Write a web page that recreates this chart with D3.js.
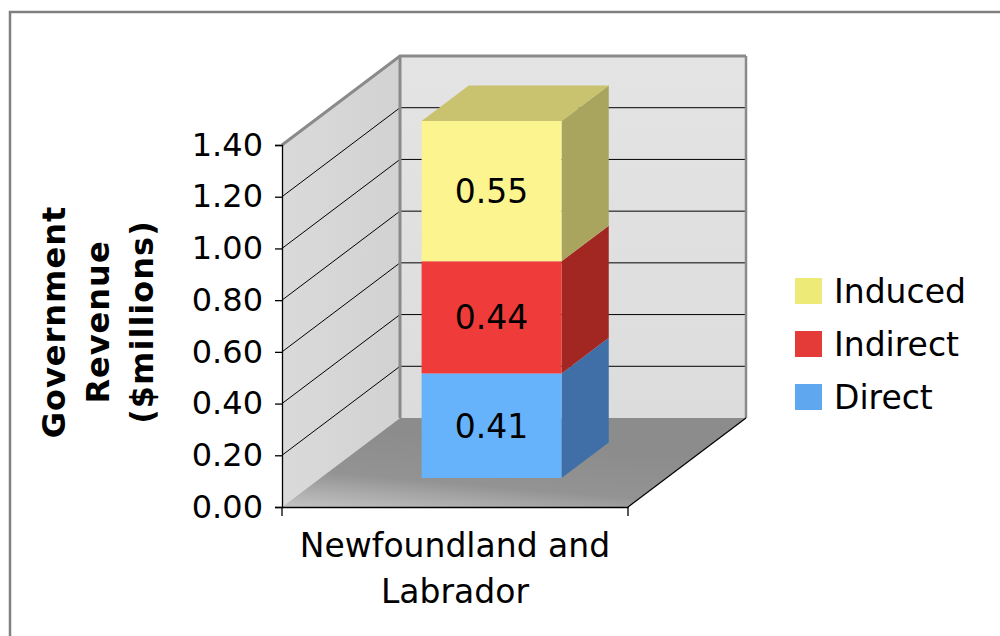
<!DOCTYPE html>
<html>
<head>
<meta charset="utf-8">
<script src="https://cdn.jsdelivr.net/npm/d3@7"></script>
<style>
  html, body { margin: 0; padding: 0; background: #fff; }
  svg { display: block; }
  text { font-family: "DejaVu Sans", Verdana, sans-serif; fill: #000; }
</style>
</head>
<body>
<svg id="chart" width="1000" height="636"></svg>
<script>
// ---- data ----
const categories = ["Newfoundland and Labrador"];
const seriesNames = ["Direct", "Indirect", "Induced"];
const directValues = [0.41];
const indirectValues = [0.44];
const inducedValues = [0.55];
const yTickValues = [0, 0.2, 0.4, 0.6, 0.8, 1.0, 1.2, 1.4];
const yTitleLines = ["Government", "Revenue", "($millions)"];
const categoryLines = [["Newfoundland and", "Labrador"]];

// ---- styles ----
const frontColor = { Direct: "#66b2fb", Indirect: "#ef3c3a", Induced: "#fcf58f" };
const sideColor  = { Direct: "#3f6fa6", Indirect: "#a22622", Induced: "#a9a45e" };
const topColor   = { Direct: "#4f8cd0", Indirect: "#c0302c", Induced: "#c9c36f" };
const legendColor = { Direct: "#5fa8f0", Indirect: "#e43a38", Induced: "#eeea78" };

const table = categories.map((c, i) => ({
  category: c,
  Direct: directValues[i],
  Indirect: indirectValues[i],
  Induced: inducedValues[i]
}));
const stacked = d3.stack().keys(seriesNames)(table);

const svg = d3.select("#chart");

// outer frame
svg.append("rect")
  .attr("x", 10).attr("y", 12).attr("width", 1010).attr("height", 700)
  .attr("fill", "#fff").attr("stroke", "#808080").attr("stroke-width", 2.5);

// ---- scales & projection ----
const yMax = 1.4;
const y = d3.scaleLinear().domain([0, yMax]).range([507, 145]);
const x = d3.scaleBand().domain(categories).range([282, 628])
  .paddingInner(0.424).paddingOuter(0.424);
// oblique depth axis: 0 = front plane, 1 = back wall
const depth = d3.scaleLinear().domain([0, 1]);
const depthX = depth.copy().range([0, 118]);
const depthY = depth.copy().range([0, -89]);

const x0 = x.range()[0], x1 = x.range()[1];
const backX0 = x0 + depthX(1), backX1 = x1 + depthX(1);

const defs = svg.append("defs");
const sideWallGrad = defs.append("linearGradient").attr("id", "sideWall")
  .attr("x1", 0).attr("y1", 0).attr("x2", 1).attr("y2", 0);
sideWallGrad.append("stop").attr("offset", "0%").attr("stop-color", "#dadada");
sideWallGrad.append("stop").attr("offset", "100%").attr("stop-color", "#d2d2d2");
const backWallGrad = defs.append("linearGradient").attr("id", "backWall")
  .attr("x1", 0).attr("y1", 0).attr("x2", 0).attr("y2", 1);
backWallGrad.append("stop").attr("offset", "0%").attr("stop-color", "#e4e4e4");
backWallGrad.append("stop").attr("offset", "100%").attr("stop-color", "#dcdcdc");
const floorGrad = defs.append("linearGradient").attr("id", "floor")
  .attr("x1", 0).attr("y1", 1).attr("x2", 0.35).attr("y2", 0.2);
floorGrad.append("stop").attr("offset", "0%").attr("stop-color", "#c4c4c4");
floorGrad.append("stop").attr("offset", "45%").attr("stop-color", "#939393");
floorGrad.append("stop").attr("offset", "100%").attr("stop-color", "#8c8c8c");

const line = d3.line();

// side wall (left)
svg.append("path")
  .attr("d", line([[x0, y(yMax)], [backX0, y(yMax) + depthY(1)], [backX0, y(0) + depthY(1)], [x0, y(0)]]) + "Z")
  .attr("fill", "url(#sideWall)");

// back wall
svg.append("rect")
  .attr("x", backX0).attr("y", y(yMax) + depthY(1))
  .attr("width", backX1 - backX0).attr("height", y(0) - y(yMax))
  .attr("fill", "url(#backWall)");

// floor
svg.append("path")
  .attr("d", line([[x0, y(0)], [x1, y(0)], [backX1, y(0) + depthY(1)], [backX0, y(0) + depthY(1)]]) + "Z")
  .attr("fill", "url(#floor)");

// gridlines across side wall and back wall
const gridTicks = yTickValues.filter(v => v > 0 && v < yMax);
const grid = svg.append("g").attr("stroke", "#000").attr("stroke-width", 1).attr("fill", "none");
gridTicks.forEach(v => {
  grid.append("path").attr("d", line([
    [x0, y(v)], [backX0, y(v) + depthY(1)], [backX1, y(v) + depthY(1)]
  ]));
});

// wall edges
const edges = svg.append("g").attr("fill", "none").attr("stroke", "#8a8a8a");
edges.append("path").attr("stroke-width", 3)
  .attr("d", line([[x0, y(yMax)], [backX0, y(yMax) + depthY(1)], [backX1, y(yMax) + depthY(1)]]));
edges.append("path").attr("stroke-width", 3)
  .attr("d", line([[backX0, y(yMax) + depthY(1)], [backX0, y(0) + depthY(1)]]));
edges.append("path").attr("stroke-width", 2.5)
  .attr("d", line([[backX1, y(yMax) + depthY(1)], [backX1, y(0) + depthY(1)]]));

// floor right edge
svg.append("path")
  .attr("d", line([[x1, y(0)], [backX1, y(0) + depthY(1)]]))
  .attr("stroke", "#000").attr("stroke-width", 1.2).attr("fill", "none");

// ---- bar ----
const barFront = 0.31, barDepth = 0.40;
const yBar = d3.scaleLinear().domain([0, yMax])
  .range([y(0) + depthY(0.326), y(yMax) + depthY(0.326) + 5]);
const ddx = depthX(barDepth), ddy = depthY(barDepth);

const bars = svg.append("g");
stacked.forEach((layer, li) => {
  layer.forEach(d => {
    const key = layer.key;
    const bx0 = x(d.data.category) + depthX(barFront);
    const bx1 = bx0 + x.bandwidth();
    const yb = yBar(d[0]), yt = yBar(d[1]);
    // right side
    bars.append("path")
      .attr("d", line([[bx1, yt], [bx1 + ddx, yt + ddy], [bx1 + ddx, yb + ddy], [bx1, yb]]) + "Z")
      .attr("fill", sideColor[key]);
    // top (only for the uppermost segment)
    if (li === stacked.length - 1) {
      bars.append("path")
        .attr("d", line([[bx0, yt], [bx0 + ddx, yt + ddy], [bx1 + ddx, yt + ddy], [bx1, yt]]) + "Z")
        .attr("fill", topColor[key]);
    }
    // front
    bars.append("rect")
      .attr("x", bx0).attr("y", yt)
      .attr("width", bx1 - bx0).attr("height", yb - yt)
      .attr("fill", frontColor[key]);
    // value label
    bars.append("text")
      .attr("x", (bx0 + bx1) / 2)
      .attr("y", (yt + yb) / 2)
      .attr("dy", "0.36em")
      .attr("text-anchor", "middle")
      .attr("font-size", 33)
      .text(d3.format(".2f")(d[1] - d[0]));
  });
});

// ---- axes ----
const yAxis = d3.axisLeft(y).tickValues(yTickValues)
  .tickFormat(d3.format(".2f")).tickSize(7).tickPadding(12);
const yAxisG = svg.append("g").attr("transform", `translate(${x0},0)`).call(yAxis);
yAxisG.select(".domain").attr("stroke", "#000").attr("stroke-width", 1.3);
yAxisG.selectAll(".tick line").attr("stroke", "#000").attr("stroke-width", 1.3);
yAxisG.selectAll(".tick text")
  .attr("font-family", "DejaVu Sans, Verdana, sans-serif")
  .attr("font-size", 32).attr("fill", "#000");

const xAxis = d3.axisBottom(x).tickSize(0).tickFormat("");
const xAxisG = svg.append("g").attr("transform", `translate(0,${y(0)})`).call(xAxis);
xAxisG.select(".domain").attr("stroke", "#000").attr("stroke-width", 1.3);
// category boundary ticks
xAxisG.selectAll(".bound").data(x.range()).enter().append("line")
  .attr("x1", d => d).attr("x2", d => d).attr("y1", 0).attr("y2", 9)
  .attr("stroke", "#000").attr("stroke-width", 1.3);

// category labels
categories.forEach((c, i) => {
  const t = svg.append("text")
    .attr("x", x(c) + x.bandwidth() / 2)
    .attr("text-anchor", "middle")
    .attr("font-size", 33);
  categoryLines[i].forEach((ln, j) => {
    t.append("tspan").attr("x", x(c) + x.bandwidth() / 2)
      .attr("y", 557 + j * 46).text(ln);
  });
});

// y-axis title
const yTitle = svg.append("text")
  .attr("transform", "translate(0,322) rotate(-90)")
  .attr("text-anchor", "middle")
  .attr("font-weight", "bold")
  .attr("font-size", 32)
  .attr("letter-spacing", 1);
yTitleLines.forEach((ln, j) => {
  yTitle.append("tspan").attr("x", 0).attr("y", 65 + j * 44).text(ln);
});

// ---- legend ----
const legendOrder = seriesNames.slice().reverse();
const legend = svg.append("g").attr("transform", "translate(795,278)");
legendOrder.forEach((name, i) => {
  const g = legend.append("g").attr("transform", `translate(0,${i * 53})`);
  g.append("rect").attr("width", 27).attr("height", 26).attr("fill", legendColor[name]);
  g.append("text").attr("x", 39).attr("y", 25).attr("font-size", 33).text(name);
});
</script>
</body>
</html>
